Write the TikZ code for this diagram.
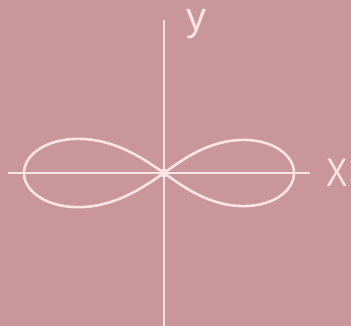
\documentclass[tikz,border=0pt]{standalone}
\usepackage{fontspec}
\setmainfont{Liberation Sans}
\definecolor{bgpink}{RGB}{200,150,155}
\definecolor{linepink}{RGB}{250,228,228}
\begin{document}
\begin{tikzpicture}[x=1pt,y=-1pt]
\tikzset{axisline/.style={draw=linepink,line width=2.2pt},
         curveline/.style={draw=linepink,line width=2.6pt},
         axlabel/.style={text=linepink,font=\fontsize{40}{40}\selectfont,inner sep=0pt,anchor=base,text height=21pt,text depth=8pt}}
\fill[bgpink] (0,0) rectangle (351,326);
\useasboundingbox (0,0) rectangle (351,326);
\coordinate (o) at (164,173);
\coordinate (xl) at (8,173);
\coordinate (xr) at (310,173);
\coordinate (yt) at (164,20);
\coordinate (yb) at (164,326);
\draw[axisline] (xl) -- (xr);
\draw[axisline] (yt) -- (yb);
\draw[curveline,shift={(o)}] plot[domain=-90:90,samples=160,smooth]
  ({130*cos(\x)/(1+sin(\x)^2)},{0.72*130*sin(\x)*cos(\x)/(1+sin(\x)^2)});
\draw[curveline,shift={(o)}] plot[domain=90:270,samples=160,smooth]
  ({140*cos(\x)/(1+sin(\x)^2)},{0.69*140*sin(\x)*cos(\x)/(1+sin(\x)^2)});
\fill[linepink] (o) circle (4.5);
\node[axlabel] (ylab) at (196,31) {y};
\node[axlabel,xscale=0.8,text height=29pt,text depth=0pt] (xlab) at (337,187) {X};
\end{tikzpicture}
\end{document}
